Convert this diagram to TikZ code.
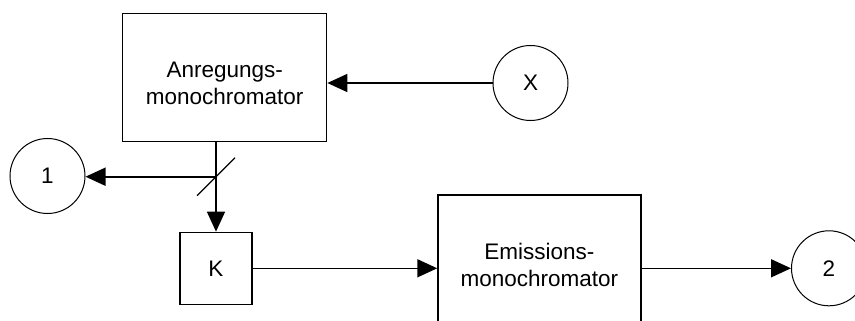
\documentclass[tikz,border=0pt]{standalone}
\usepackage{fontspec}
\setmainfont{Liberation Sans}
\usetikzlibrary{arrows.meta,calc}
\begin{document}
\begin{tikzpicture}[x=1pt,y=-1pt,font=\fontsize{22.5}{27}\selectfont,
  blockbox/.style={draw,line width=1.3pt,inner sep=0pt},
  port/.style={draw,circle,line width=1pt,minimum size=75pt,inner sep=0pt},
  beam/.style={line width=1.6pt,-{Triangle[length=20pt,width=18pt]}}]
\clip (0,0) rectangle (855,321);
% boxes
\node[blockbox,minimum width=204pt,minimum height=128pt,
  label={[align=center,yshift=-6pt]center:Anregungs-\\monochromator}] (anreg) at (224.7,77.4) {};
\node[blockbox,minimum width=203pt,minimum height=128pt,
  label={[align=center,yshift=-6pt]center:Emissions-\\monochromator}] (emiss) at (539.4,259) {};
\node[blockbox,minimum size=72pt] (kuev) at (216,268.3) {K};
% circles
\node[port] (src) at (530.5,83) {X};
\node[port] (ref) at (47.5,176) {1};
\node[port] (det) at (829,268.3) {2};
% beams
\coordinate (split) at (216,176.7);
\draw[beam] (src.west) -- (src.west -| anreg.east);
\draw[line width=1.6pt] (split |- anreg.south) -- (split);
\draw[beam] (split) -- (split -| ref.east);
\draw[beam] (split) -- (split |- kuev.north);
\draw[line width=1.2pt] ($(split)+(-19,19)$) -- ($(split)+(19,-19)$);
\draw[beam] (kuev.east) -- (kuev.east -| emiss.west);
\draw[beam] (det.west -| emiss.east) -- (det.west);
\end{tikzpicture}
\end{document}
